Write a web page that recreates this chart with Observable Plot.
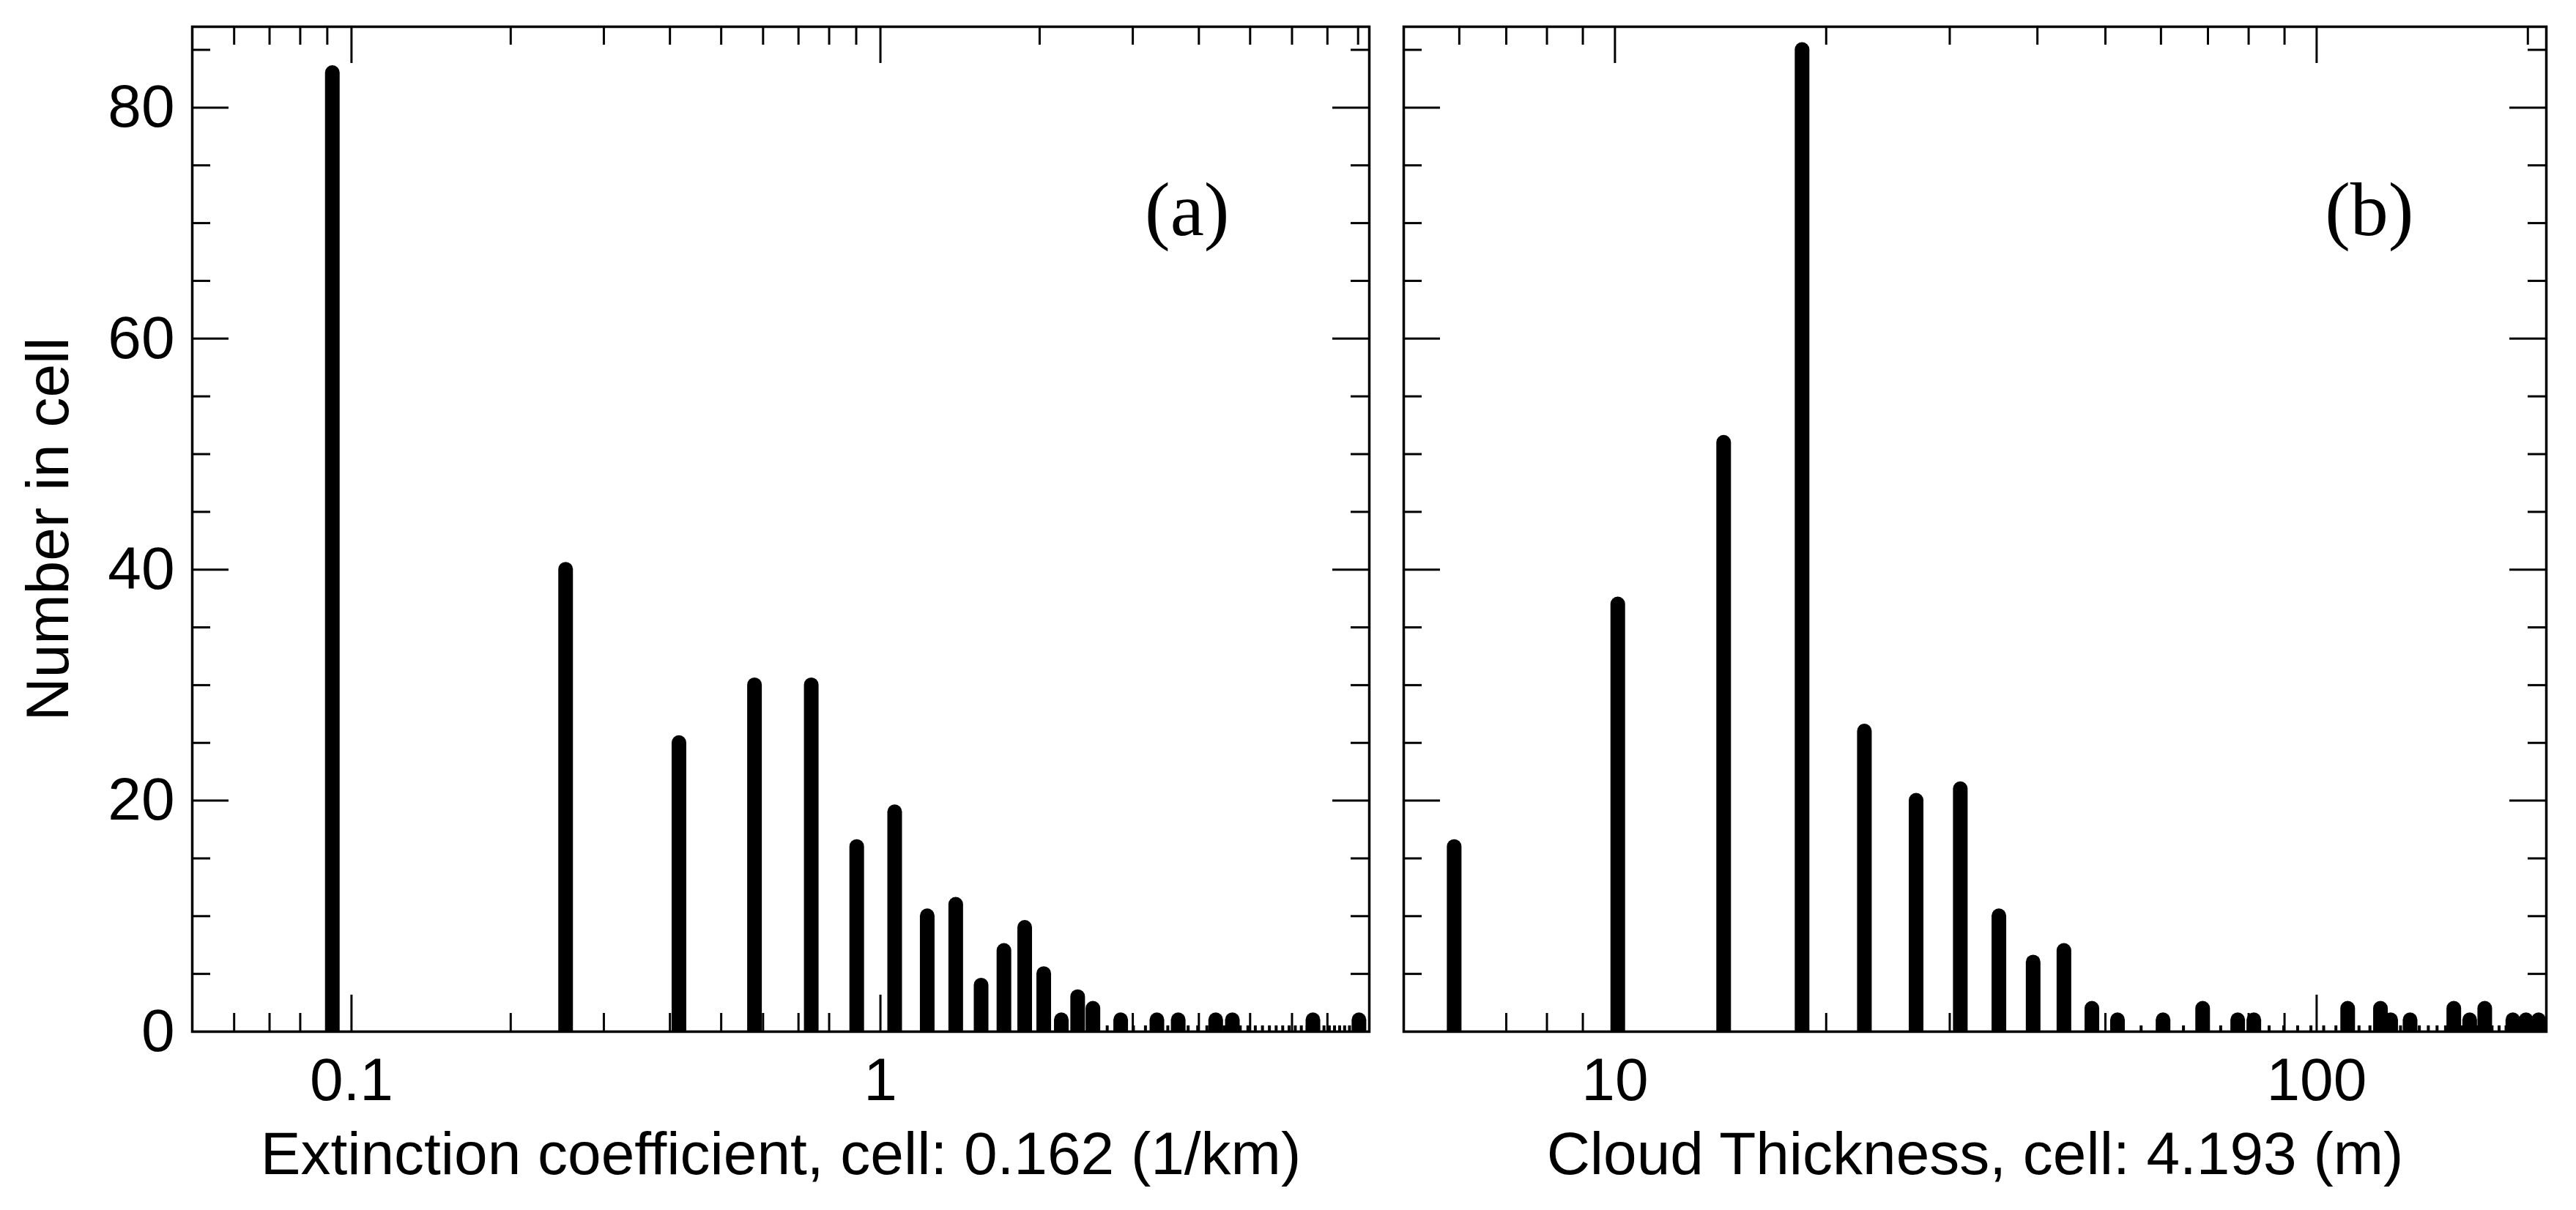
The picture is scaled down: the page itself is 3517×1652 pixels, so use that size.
<!DOCTYPE html>
<html>
<head>
<meta charset="utf-8">
<script src="https://cdn.jsdelivr.net/npm/d3@7"></script>
<script src="https://cdn.jsdelivr.net/npm/@observablehq/plot@0.6"></script>
<style>
  html, body { margin: 0; padding: 0; background: #ffffff; }
  #chart { position: relative; width: 3517px; height: 1652px; overflow: hidden; background: #ffffff; }
  #chart svg { position: absolute; top: 0; }
</style>
</head>
<body>
<div id="chart"></div>
<script>
// ---- Panel (a): extinction coefficient histogram (cell 0.162 1/km) ----
const extBins = [0.092, 0.254, 0.416, 0.578, 0.740, 0.902, 1.064, 1.226, 1.388, 1.550,
  1.712, 1.874, 2.036, 2.198, 2.360, 2.522, 2.684, 2.846, 3.008, 3.170,
  3.332, 3.494, 3.656, 3.818, 3.980, 4.142, 4.304, 4.466, 4.628, 4.790,
  4.952, 5.114, 5.276, 5.438, 5.600, 5.762, 5.924, 6.086, 6.248, 6.410,
  6.572, 6.734, 6.896, 7.058, 7.220, 7.382, 7.544, 7.706, 7.868, 8.030, 8.192];
const extCounts = [83, 40, 25, 30, 30, 16, 19, 10, 11, 4,
  7, 9, 5, 1, 3, 2, 0, 1, 0, 0,
  1, 0, 1, 0, 0, 0, 1, 0, 1, 0,
  0, 0, 0, 0, 0, 0, 0, 0, 0, 0,
  1, 0, 0, 0, 0, 0, 0, 0, 0, 1, 0];

// ---- Panel (b): cloud thickness histogram (cell 4.193 m) ----
const thickBins = [5.900, 10.093, 14.286, 18.479, 22.672, 26.865, 31.058, 35.251, 39.444, 43.637,
  47.830, 52.023, 56.216, 60.409, 64.602, 68.795, 72.988, 77.181, 81.374, 85.567,
  89.760, 93.953, 98.146, 102.339, 106.532, 110.725, 114.918, 119.111, 123.304, 127.497,
  131.690, 135.883, 140.076, 144.269, 148.462, 152.655, 156.848, 161.041, 165.234, 169.427,
  173.620, 177.813, 182.006, 186.199, 190.392, 194.585, 198.778, 202.971, 207.164, 211.357];
const thickCounts = [16, 37, 51, 85, 26, 20, 21, 10, 6, 7,
  2, 1, 0, 1, 0, 2, 0, 1, 1, 0,
  0, 0, 0, 0, 0, 2, 0, 0, 2, 1,
  0, 1, 0, 0, 0, 0, 2, 0, 1, 0,
  2, 0, 0, 0, 1, 0, 1, 0, 1, 0];

// ---- Axes ----
const yDomain = [0, 87];
const yMajorTicks = [0, 20, 40, 60, 80];
const yMinorTicks = [5, 10, 15, 25, 30, 35, 45, 50, 55, 65, 70, 75, 85];
const extDomain = [0.05, 8.4];
const extMajorTicks = [0.1, 1];
const extMinorTicks = [0.06, 0.07, 0.08, 0.09, 0.2, 0.3, 0.4, 0.5, 0.6, 0.7, 0.8, 0.9, 2, 3, 4, 5, 6, 7, 8];
const thickDomain = [5, 212.5];
const thickMajorTicks = [10, 100];
const thickMinorTicks = [6, 7, 8, 9, 20, 30, 40, 50, 60, 70, 80, 90, 200];

// ---- Texts ----
const extTitle = "Extinction coefficient, cell: 0.162 (1/km)";
const thickTitle = "Cloud Thickness, cell: 4.193 (m)";
const yTitle = "Number in cell";
const panelTags = ["(a)", "(b)"];

const SANS = "'Liberation Sans', Arial, Helvetica, sans-serif";
const SERIF = "'Liberation Serif', 'Times New Roman', serif";

function panel({bins, counts, xDomain, majorX, minorX, title, tag, tagDx, width, marginLeft, marginRight, showY}) {
  const H = 1652, mt = 36, mb = 244;
  const fw = width - marginLeft - marginRight;
  const fh = H - mt - mb;
  const rows = bins.map((x, i) => ({x, count: counts[i]}));
  const filled = rows.filter(d => d.count > 0);
  const empty = rows.filter(d => d.count === 0);
  const tickStyle = {stroke: "black", strokeWidth: 3};
  return Plot.plot({
    width, height: H,
    marginLeft, marginRight, marginTop: mt, marginBottom: mb,
    style: {fontFamily: SANS, background: "white", color: "black", overflow: "visible"},
    x: {type: "log", domain: xDomain, axis: null, label: null},
    y: {domain: yDomain, axis: null, label: null},
    marks: [
      Plot.ruleX(empty, {x: "x", insetTop: fh - 8, stroke: "black", strokeWidth: 4}),
      Plot.ruleX(filled, {x: "x", y1: 0, y2: "count", stroke: "black", strokeWidth: 20, strokeLinecap: "round", clip: true}),
      Plot.ruleY(yMajorTicks, {...tickStyle, insetRight: fw - 50}),
      Plot.ruleY(yMajorTicks, {...tickStyle, insetLeft: fw - 50}),
      Plot.ruleY(yMinorTicks, {...tickStyle, insetRight: fw - 25}),
      Plot.ruleY(yMinorTicks, {...tickStyle, insetLeft: fw - 25}),
      Plot.ruleX(majorX, {...tickStyle, insetTop: fh - 50}),
      Plot.ruleX(majorX, {...tickStyle, insetBottom: fh - 50}),
      Plot.ruleX(minorX, {...tickStyle, insetTop: fh - 25}),
      Plot.ruleX(minorX, {...tickStyle, insetBottom: fh - 25}),
      Plot.frame({stroke: "black", strokeWidth: 3.5}),
      Plot.axisX(majorX, {anchor: "bottom", tickSize: 0, tickPadding: 35, fontSize: 82, label: null, tickFormat: d => String(d)}),
      showY ? Plot.axisY(yMajorTicks, {anchor: "left", tickSize: 0, tickPadding: 24, fontSize: 82, label: null}) : null,
      Plot.text([title], {frameAnchor: "bottom", textAnchor: "middle", lineAnchor: "bottom", dy: 194, fontSize: 82, fill: "black"}),
      showY ? Plot.text([yTitle], {frameAnchor: "left", rotate: -90, textAnchor: "middle", lineAnchor: "bottom", dx: -170, fontSize: 82, fill: "black"}) : null,
      Plot.text([tag], {frameAnchor: "top-right", textAnchor: "end", lineAnchor: "bottom", dx: tagDx, dy: 284, fontSize: 104, fontFamily: SERIF, fill: "black"})
    ]
  });
}

const chart = document.getElementById("chart");
const left = panel({
  bins: extBins, counts: extCounts, xDomain: extDomain,
  majorX: extMajorTicks, minorX: extMinorTicks, title: extTitle, tag: panelTags[0], tagDx: -191,
  width: 1890, marginLeft: 262, marginRight: 21, showY: true
});
left.style.left = "0px";
chart.appendChild(left);

const right = panel({
  bins: thickBins, counts: thickCounts, xDomain: thickDomain,
  majorX: thickMajorTicks, minorX: thickMinorTicks, title: thickTitle, tag: panelTags[1], tagDx: -181,
  width: 1627, marginLeft: 26, marginRight: 41, showY: false
});
right.style.left = "1890px";
chart.appendChild(right);
</script>
</body>
</html>
